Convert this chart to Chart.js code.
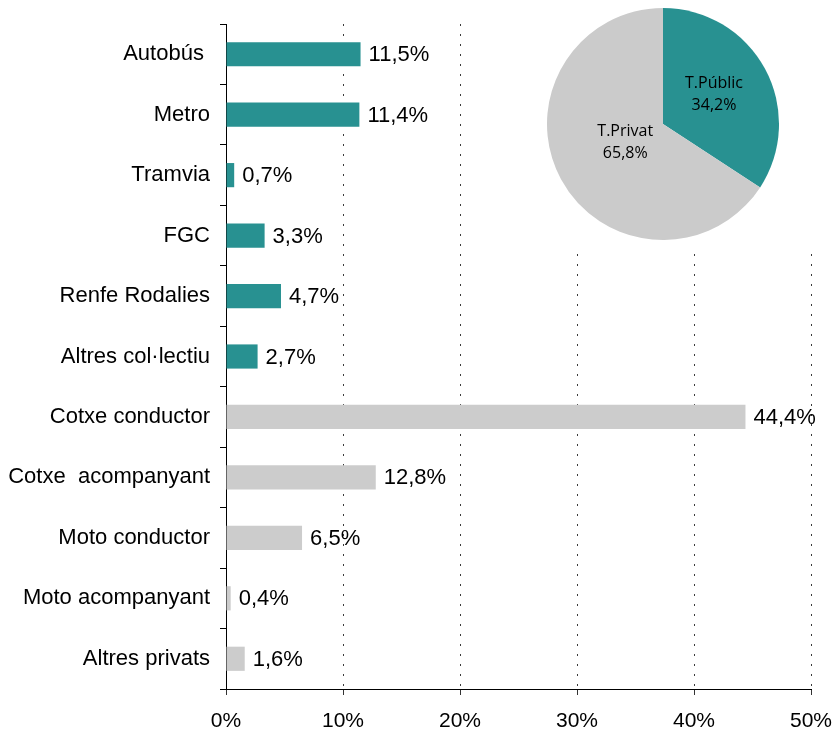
<!DOCTYPE html>
<html>
<head>
<meta charset="utf-8">
<script src="https://cdn.jsdelivr.net/npm/chart.js@4"></script>
<style>
  html, body { margin: 0; padding: 0; background: #fff; }
  #wrap { position: relative; width: 834px; height: 733px; }
  #bars { position: absolute; left: 0; top: 0; }
  #pieBox { position: absolute; left: 540px; top: 0; width: 294px; height: 248px; background: #fff; }
  #pie { position: absolute; left: 7px; top: 8px; }
</style>
</head>
<body>
<div id="wrap">
  <canvas id="bars" width="834" height="733"></canvas>
  <div id="pieBox"><canvas id="pie" width="232" height="232"></canvas></div>
</div>
<script>
const categories = ["Autobús ", "Metro", "Tramvia", "FGC", "Renfe Rodalies", "Altres col·lectiu",
  "Cotxe conductor", "Cotxe  acompanyant", "Moto conductor", "Moto acompanyant", "Altres privats"];
const shares = [11.5, 11.4, 0.7, 3.3, 4.7, 2.7, 44.4, 12.8, 6.5, 0.4, 1.6];
const isPublic = [true, true, true, true, true, true, false, false, false, false, false];
const xTicks = [0, 10, 20, 30, 40, 50];

const pieLabels = ["T.Públic", "T.Privat"];
const pieValues = [34.2, 65.8];

const TEAL = '#289191';
const GREY = '#cccccc';
const PIE_GREY = '#cbcbcb';
const FONT = '"Liberation Sans", Arial, sans-serif';

function fmt(v) { return v.toFixed(1).replace('.', ',') + '%'; }

const barLabelPlugin = {
  id: 'barLabels',
  afterDatasetsDraw(chart) {
    const ctx = chart.ctx;
    const meta = chart.getDatasetMeta(0);
    ctx.save();
    ctx.font = '22px ' + FONT;
    ctx.fillStyle = '#000';
    ctx.textAlign = 'left';
    ctx.textBaseline = 'middle';
    meta.data.forEach((bar, i) => {
      ctx.fillText(fmt(shares[i]), bar.x + 8, bar.y + 1);
    });
    ctx.restore();
  }
};

new Chart(document.getElementById('bars'), {
  type: 'bar',
  data: {
    labels: categories,
    datasets: [{
      data: shares,
      backgroundColor: isPublic.map(p => p ? TEAL : GREY),
      borderWidth: 0,
      barPercentage: 0.4,
      categoryPercentage: 1.0
    }]
  },
  options: {
    indexAxis: 'y',
    responsive: false,
    animation: false,
    devicePixelRatio: 1,
    layout: { padding: { top: 24, right: 23, left: 0, bottom: 0 } },
    plugins: { legend: { display: false }, tooltip: { enabled: false } },
    scales: {
      x: {
        min: 0, max: 50,
        afterBuildTicks(scale) { scale.ticks = xTicks.map(v => ({ value: v })); },
        afterFit(scale) { scale.height = 44; scale.paddingLeft = 0; scale.paddingRight = 0; },
        border: { display: true, color: '#000', width: 1, dash: [2, 8] },
        grid: {
          drawOnChartArea: true,
          color: c => c.index === 0 ? 'rgba(0,0,0,0)' : '#3a3a3a',
          lineWidth: 1,
          tickLength: 6,
          tickColor: '#333',
          tickBorderDash: []
        },
        ticks: {
          color: '#000',
          font: { family: FONT, size: 21 },
          padding: 14,
          maxRotation: 0,
          callback: v => v + '%'
        }
      },
      y: {
        afterFit(scale) { scale.width = 226; },
        border: { display: true, color: '#000', width: 1 },
        grid: {
          offset: true,
          drawOnChartArea: false,
          tickLength: 6,
          color: '#000',
          tickColor: '#000'
        },
        ticks: {
          color: '#000',
          font: { family: FONT, size: 22 },
          padding: 10,
          autoSkip: false
        }
      }
    }
  },
  plugins: [barLabelPlugin]
});

const pieLabelFrac = [0.50, 0.37];
const pieLabelPlugin = {
  id: 'pieLabels',
  afterDatasetsDraw(chart) {
    const ctx = chart.ctx;
    const meta = chart.getDatasetMeta(0);
    ctx.save();
    ctx.font = '16px "Open Sans", "Noto Sans", sans-serif';
    ctx.fillStyle = '#000';
    ctx.textAlign = 'center';
    ctx.textBaseline = 'middle';
    meta.data.forEach((arc, i) => {
      const a = (arc.startAngle + arc.endAngle) / 2;
      const r = arc.outerRadius * pieLabelFrac[i];
      const x = arc.x + Math.cos(a) * r;
      const y = arc.y + Math.sin(a) * r;
      ctx.fillText(pieLabels[i], x, y - 13);
      ctx.fillText(fmt(pieValues[i]), x, y + 9);
    });
    ctx.restore();
  }
};

new Chart(document.getElementById('pie'), {
  type: 'pie',
  data: {
    labels: pieLabels,
    datasets: [{
      data: pieValues,
      backgroundColor: [TEAL, PIE_GREY],
      borderWidth: 0
    }]
  },
  options: {
    responsive: false,
    animation: false,
    devicePixelRatio: 1,
    layout: { padding: 0 },
    plugins: { legend: { display: false }, tooltip: { enabled: false } }
  },
  plugins: [pieLabelPlugin]
});
</script>
</body>
</html>
